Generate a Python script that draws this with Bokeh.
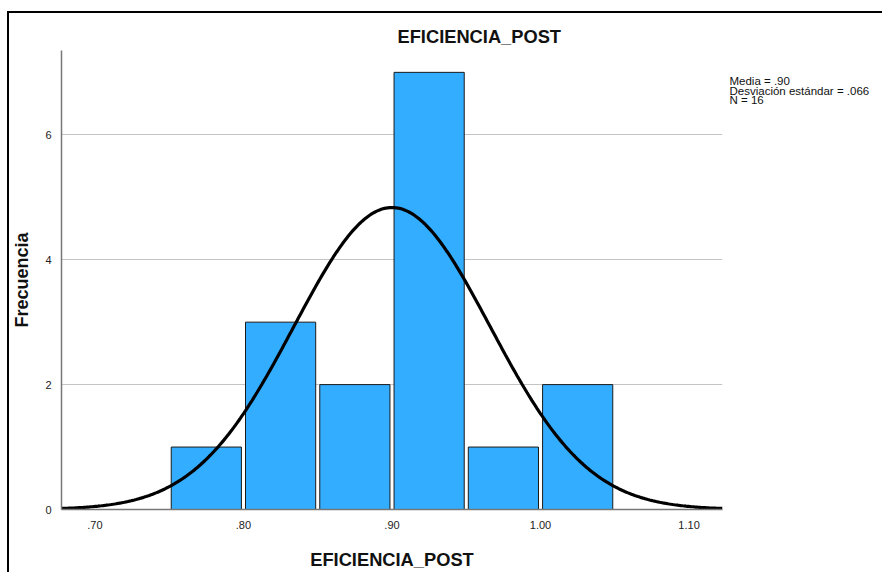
import numpy as np
from bokeh.plotting import figure
from bokeh.models import (FixedTicker, LinearAxis, ColumnDataSource, Range1d)
from bokeh.embed import file_html
from bokeh.resources import INLINE

# ---- data ----
bin_left = [0.75, 0.80, 0.85, 0.90, 0.95, 1.00]
bin_width = 0.05
counts = [1, 3, 2, 7, 1, 2]
mean = 0.90
sd = 0.066
n = 16
x_ticks = [0.70, 0.80, 0.90, 1.00, 1.10]
x_tick_labels = [".70", ".80", ".90", "1.00", "1.10"]
y_ticks = [0, 2, 4, 6]
stats_lines = ["Media = .90", "Desviación estándar = .066", "N = 16"]
title_text = "EFICIENCIA_POST"
x_label = "EFICIENCIA_POST"
y_label = "Frecuencia"

# page geometry (pixels in the 884x574 window)
PAGE_W, PAGE_H = 884, 574
BX, BY = 7, 11           # outer border lines
OX, OY = BX + 2, BY + 2  # canvas origin after margin + border
W, H = PAGE_W - OX, PAGE_H - OY
FL, FR, FT, FB = 61 - OX, 722 - OX, 50 - OY, 509 - OY   # frame edges in canvas px
YMAX = 7.35
FONT = "Liberation Sans"

p = figure(width=W, height=H, output_backend="svg", toolbar_location=None,
           x_range=Range1d(0.6775, 1.1225), y_range=Range1d(0, YMAX))
p.margin = (BY, 0, 0, BX)
p.styles = {"border-left": "2px solid #000", "border-top": "2px solid #000"}
p.min_border_left = FL
p.min_border_right = W - FR
p.min_border_top = FT
p.min_border_bottom = H - FB
p.outline_line_color = None
p.background_fill_color = "white"
p.border_fill_color = "white"

centers = [l + bin_width / 2 for l in bin_left]
src = ColumnDataSource(dict(x=centers, top=counts))
p.vbar(x="x", top="top", bottom=0, width=bin_width * 0.945, source=src,
       fill_color="#33adff", line_color="#1a1a1a", line_width=1)

xs = np.linspace(0.6775, 1.1225, 400)
ys = n * bin_width * np.exp(-0.5 * ((xs - mean) / sd) ** 2) / (sd * np.sqrt(2 * np.pi))
p.line(xs, ys, line_color="black", line_width=3.2)

# title
p.title.text = title_text
p.title.align = "left"
p.title.offset = 397 - 61
p.title.text_font = FONT
p.title.text_font_size = "18.3px"
p.title.text_font_style = "bold"
p.title.text_color = "#111111"
p.title.standoff = 7

# axes
p.xaxis.ticker = FixedTicker(ticks=x_ticks)
p.xaxis.major_label_overrides = {t: l for t, l in zip(x_ticks, x_tick_labels)}
p.yaxis.ticker = FixedTicker(ticks=y_ticks)
for ax in (p.xaxis, p.yaxis):
    ax.axis_line_color = "#777777"
    ax.axis_line_width = 1.5
    ax.major_tick_line_color = None
    ax.minor_tick_line_color = None
    ax.major_label_text_font = FONT
    ax.major_label_text_font_size = "11px"
    ax.major_label_text_color = "#222222"
    ax.axis_label_text_font = FONT
    ax.axis_label_text_font_style = "bold"
    ax.axis_label_text_color = "#111111"
p.xaxis.major_label_standoff = 5
p.yaxis.major_label_standoff = 4
p.xaxis.axis_label = x_label
p.xaxis.axis_label_text_font_size = "18.3px"
p.xaxis.axis_label_standoff = 17
p.yaxis.axis_label = y_label
p.yaxis.axis_label_text_font_size = "18px"
p.yaxis.axis_label_standoff = 10
p.xgrid.grid_line_color = None
p.ygrid.ticker = FixedTicker(ticks=[2, 4, 6])
p.ygrid.grid_line_color = "#c4c4c4"
p.ygrid.grid_line_width = 1

# statistics text, drawn as the labels of an unlined axis at the frame's right
stat_pix = [80.5 + 9.7 * i - OY for i in range(len(stats_lines))]
stat_y = [(FB - yp) / (FB - FT) * YMAX for yp in stat_pix]
stats_axis = LinearAxis(ticker=FixedTicker(ticks=stat_y),
                        major_label_overrides={v: s for v, s in zip(stat_y, stats_lines)})
stats_axis.axis_line_color = None
stats_axis.major_tick_line_color = None
stats_axis.minor_tick_line_color = None
stats_axis.major_label_standoff = 1
stats_axis.major_label_text_font = FONT
stats_axis.major_label_text_font_size = "11.5px"
stats_axis.major_label_text_color = "#111111"
p.add_layout(stats_axis, "right")

open("out.html", "w").write(file_html(p, INLINE))
